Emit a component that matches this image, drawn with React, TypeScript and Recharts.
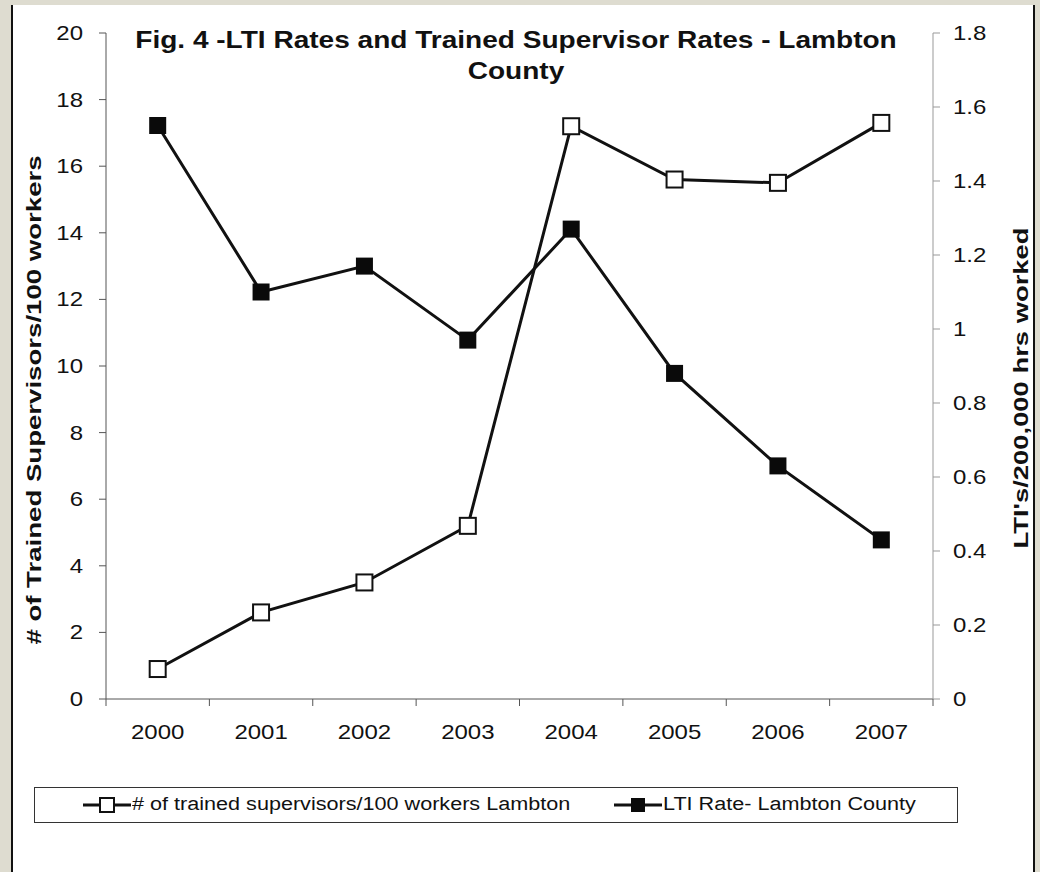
import { ComposedChart, Line, XAxis, YAxis } from 'recharts'

const years = ['2000', '2001', '2002', '2003', '2004', '2005', '2006', '2007']
const trainedSupervisors = [0.9, 2.6, 3.5, 5.2, 17.2, 15.6, 15.5, 17.3]
const ltiRate = [1.55, 1.1, 1.17, 0.97, 1.27, 0.88, 0.63, 0.43]
const leftTicks = [0, 2, 4, 6, 8, 10, 12, 14, 16, 18, 20]
const rightTicks = [0, 0.2, 0.4, 0.6, 0.8, 1, 1.2, 1.4, 1.6, 1.8]
const seriesNames = ['# of trained supervisors/100 workers Lambton', 'LTI Rate- Lambton County']

const data = years.map((year, i) => ({
  year,
  trained: trainedSupervisors[i],
  lti: ltiRate[i],
}))

const FONT = '"Liberation Sans", Arial, sans-serif'
const W = 1040
const H = 872
const PLOT_LEFT = 106
const PLOT_RIGHT = 933
const PLOT_TOP = 33
const PLOT_BOTTOM = 699
const PLOT_W = PLOT_RIGHT - PLOT_LEFT
const BAND = PLOT_W / years.length
// the source image is stretched sideways, so text is widened a bit
const SX = 1.2

function YearTick(props: any) {
  const { x, payload, index } = props
  const left = x - BAND / 2
  return (
    <g>
      <line x1={left} x2={left} y1={PLOT_BOTTOM} y2={PLOT_BOTTOM + 7} stroke='#555' />
      {index === years.length - 1 && (
        <line x1={x + BAND / 2} x2={x + BAND / 2} y1={PLOT_BOTTOM} y2={PLOT_BOTTOM + 7} stroke='#555' />
      )}
      <text
        transform={`translate(${x}, ${PLOT_BOTTOM + 40}) scale(${SX}, 1)`}
        textAnchor='middle'
        fontSize={20}
        fill='#111'
        fontFamily={FONT}
      >
        {payload.value}
      </text>
    </g>
  )
}

function LeftTick(props: any) {
  const { y, payload } = props
  return (
    <text
      transform={`translate(${PLOT_LEFT - 23}, ${y + 7}) scale(${SX}, 1)`}
      textAnchor='end'
      fontSize={20}
      fill='#111'
      fontFamily={FONT}
    >
      {payload.value}
    </text>
  )
}

function RightTick(props: any) {
  const { y, payload } = props
  return (
    <text
      transform={`translate(${PLOT_RIGHT + 20}, ${y + 7}) scale(${SX}, 1)`}
      textAnchor='start'
      fontSize={20}
      fill='#111'
      fontFamily={FONT}
    >
      {`${Math.round(payload.value * 10) / 10}`}
    </text>
  )
}

function OpenSquare(props: any) {
  const { cx, cy, index } = props
  return <rect key={'o' + index} x={cx - 8} y={cy - 8} width={16} height={16} fill='#fff' stroke='#111' strokeWidth={2} />
}

function FilledSquare(props: any) {
  const { cx, cy, index } = props
  return <rect key={'f' + index} x={cx - 8.5} y={cy - 8.5} width={17} height={17} fill='#0a0a0a' />
}

function LegendItem({ left, name, filled }: { left: number; name: string; filled: boolean }) {
  return (
    <div style={{ position: 'absolute', left, top: 6, display: 'flex', alignItems: 'center', whiteSpace: 'nowrap' }}>
      <svg width={49} height={20}>
        <line x1={0} x2={48} y1={10} y2={10} stroke='#111' strokeWidth={3} />
        <rect x={17} y={3} width={14} height={14} fill={filled ? '#0a0a0a' : '#fff'} stroke='#111' strokeWidth={filled ? 0 : 2} />
      </svg>
      <span style={{ display: 'inline-block', transform: `scaleX(${SX})`, transformOrigin: 'left center' }}>{name}</span>
    </div>
  )
}

export default function App() {
  return (
    <div style={{ position: 'absolute', left: 0, top: 0, width: W, height: H, background: '#dedcd0', overflow: 'hidden' }}>
      <div
        style={{
          position: 'absolute',
          left: 11,
          top: 5,
          width: 1020,
          height: H - 5,
          background: '#fff',
          borderLeft: '2px solid #111',
          borderRight: '2px solid #111',
        }}
      />
      <div style={{ position: 'absolute', left: 0, top: 0 }}>
        <ComposedChart width={W} height={H} data={data} margin={{ top: PLOT_TOP, right: 0, left: 0, bottom: 113 }}>
          <XAxis
            dataKey='year'
            interval={0}
            height={60}
            padding={{ left: BAND / 2, right: BAND / 2 }}
            axisLine={{ stroke: '#555' }}
            tickLine={false}
            tick={<YearTick />}
          />
          <YAxis
            yAxisId='left'
            domain={[0, 20]}
            ticks={leftTicks}
            width={PLOT_LEFT}
            axisLine={{ stroke: '#555' }}
            tickLine={{ stroke: '#555' }}
            tickSize={7}
            tick={<LeftTick />}
          />
          <YAxis
            yAxisId='right'
            orientation='right'
            domain={[0, 1.8]}
            ticks={rightTicks}
            width={W - PLOT_RIGHT}
            axisLine={{ stroke: '#999' }}
            tickLine={{ stroke: '#999' }}
            tickSize={7}
            tick={<RightTick />}
          />
          <Line
            yAxisId='right'
            dataKey='lti'
            name={seriesNames[1]}
            stroke='#111'
            strokeWidth={3}
            dot={FilledSquare}
            activeDot={false}
            isAnimationActive={false}
          />
          <Line
            yAxisId='left'
            dataKey='trained'
            name={seriesNames[0]}
            stroke='#111'
            strokeWidth={3}
            dot={OpenSquare}
            activeDot={false}
            isAnimationActive={false}
          />
          <text
            transform={`translate(516, 48) scale(1.22, 1)`}
            textAnchor='middle'
            fontSize={23}
            fontWeight='bold'
            fill='#111'
            fontFamily={FONT}
          >
            Fig. 4 -LTI Rates and Trained Supervisor Rates - Lambton
          </text>
          <text
            transform={`translate(516, 79) scale(1.22, 1)`}
            textAnchor='middle'
            fontSize={23}
            fontWeight='bold'
            fill='#111'
            fontFamily={FONT}
          >
            County
          </text>
          <text
            transform='translate(41, 400) rotate(-90) scale(1.38, 1)'
            textAnchor='middle'
            fontSize={20}
            fontWeight='bold'
            fill='#111'
            fontFamily={FONT}
          >
            # of Trained Supervisors/100 workers
          </text>
          <text
            transform='translate(1028, 388) rotate(-90) scale(1.37, 1)'
            textAnchor='middle'
            fontSize={20}
            fontWeight='bold'
            fill='#111'
            fontFamily={FONT}
          >
            LTI's/200,000 hrs worked
          </text>
        </ComposedChart>
      </div>
      <div
        style={{
          position: 'absolute',
          left: 34,
          top: 787,
          width: 922,
          height: 34,
          border: '1px solid #333',
          background: '#fff',
          fontFamily: FONT,
          fontSize: 18,
          color: '#111',
        }}
      >
        <LegendItem left={48} name={seriesNames[0]} filled={false} />
        <LegendItem left={579} name={seriesNames[1]} filled={true} />
      </div>
    </div>
  )
}
